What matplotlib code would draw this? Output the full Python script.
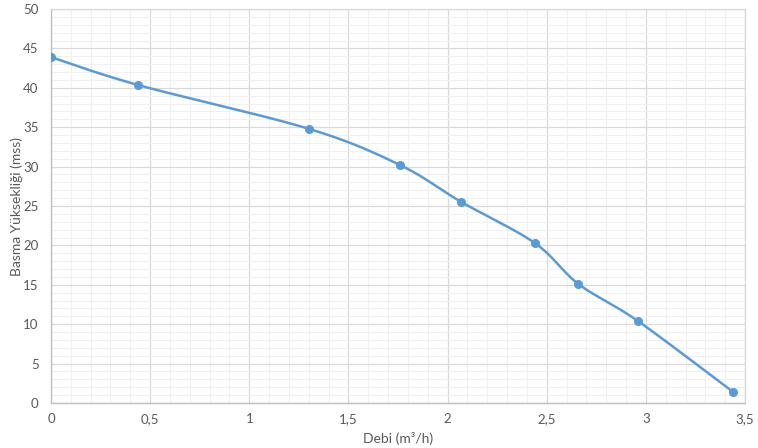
import numpy as np
import matplotlib.pyplot as plt
from matplotlib.ticker import MultipleLocator, FuncFormatter

# Pump curve readings
debi = [0.0, 0.44, 1.30, 1.76, 2.07, 2.44, 2.66, 2.96, 3.44]
basma = [43.9, 40.35, 34.8, 30.2, 25.5, 20.3, 15.1, 10.4, 1.4]

LINE_COLOR = "#5b9bd5"
TEXT_COLOR = "#595959"


def smooth_curve(xs, ys, sx, sy, n=40):
    # Excel style smoothing: catmull-rom bezier in screen-like space
    px = np.array(xs) * sx
    py = np.array(ys) * sy
    pts = np.column_stack([px, py])
    out = []
    for i in range(len(pts) - 1):
        p0 = pts[i - 1] if i > 0 else pts[i]
        p1 = pts[i]
        p2 = pts[i + 1]
        p3 = pts[i + 2] if i + 2 < len(pts) else pts[i + 1]
        c1 = p1 + (p2 - p0) / 6.0
        c2 = p2 - (p3 - p1) / 6.0
        t = np.linspace(0, 1, n)[:, None]
        seg = ((1 - t) ** 3) * p1 + 3 * ((1 - t) ** 2) * t * c1 + 3 * (1 - t) * t ** 2 * c2 + t ** 3 * p2
        out.append(seg)
    out = np.vstack(out)
    return out[:, 0] / sx, out[:, 1] / sy


plt.rcParams['font.family'] = ['Lato', 'DejaVu Sans']

fig = plt.figure(figsize=(7.58, 4.48), dpi=100)
ax = fig.add_axes([51 / 758, 45 / 448, 694 / 758, 394 / 448])

sx = 694 / 3.5
sy = 394 / 50
cx, cy = smooth_curve(debi, basma, sx, sy)
ax.plot(cx, cy, color=LINE_COLOR, linewidth=1.8, zorder=3)
ax.plot(debi, basma, linestyle="none", marker="o", markersize=5.5,
        color=LINE_COLOR, zorder=4)

ax.set_xlim(0, 3.5)
ax.set_ylim(0, 50)
ax.xaxis.set_major_locator(MultipleLocator(0.5))
ax.xaxis.set_minor_locator(MultipleLocator(0.1))
ax.yaxis.set_major_locator(MultipleLocator(5))
ax.yaxis.set_minor_locator(MultipleLocator(1))
ax.xaxis.set_major_formatter(FuncFormatter(lambda v, p: ("%g" % v).replace(".", ",")))

ax.grid(True, which="major", color="#d9d9d9", linewidth=0.9, zorder=0)
ax.grid(True, which="minor", color="#f0f0f0", linewidth=0.8, zorder=0)
ax.set_axisbelow(True)

for side in ["top", "right"]:
    ax.spines[side].set_color("#d9d9d9")
    ax.spines[side].set_linewidth(0.9)
for side in ["left", "bottom"]:
    ax.spines[side].set_color("#bfbfbf")
    ax.spines[side].set_linewidth(1.0)

ax.tick_params(which="both", length=0, labelsize=9.5, colors=TEXT_COLOR, pad=7)
ax.tick_params(axis="y", pad=9)

ax.set_xlabel("Debi (m³/h)", fontsize=10, color=TEXT_COLOR, labelpad=5)
ax.set_ylabel("Basma Yüksekliği (mss)", fontsize=10, color=TEXT_COLOR, labelpad=0)

fig.savefig("out.png", dpi=100)
